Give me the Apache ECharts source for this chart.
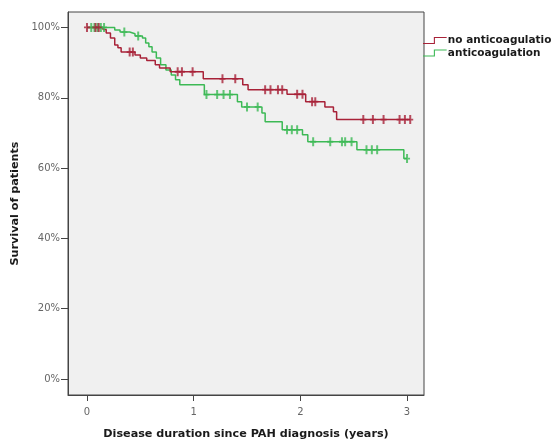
<!DOCTYPE html>
<html>
<head>
<meta charset="utf-8">
<script src="https://cdn.jsdelivr.net/npm/echarts@6/dist/echarts.min.js"></script>
<style>
  html, body { margin: 0; padding: 0; background: #fff; }
  #chart { width: 552px; height: 445px; }
</style>
</head>
<body>
<div id="chart"></div>
<script>
// Kaplan-Meier: survival by anticoagulation status
const seriesNames = ['no anticoagulation', 'anticoagulation']
const xTicks = [0, 1, 2, 3]
const yTicks = [0, 20, 40, 60, 80, 100]

// no anticoagulation: event times (years) and survival (%) after each event
const redEventTimes = [0.15, 0.18, 0.22, 0.26, 0.29, 0.32, 0.45, 0.50, 0.56, 0.64, 0.68, 0.78, 1.09, 1.46, 1.51, 1.875, 2.05, 2.23, 2.31, 2.34]
const redSurvival = [99.4, 98.4, 97.0, 95.0, 94.2, 93.0, 92.2, 91.3, 90.6, 89.4, 88.5, 87.4, 85.4, 83.7, 82.3, 81.0, 78.9, 77.4, 76.0, 73.8]
const redCensored = [0.0, 0.08, 0.11, 0.40, 0.43, 0.85, 0.89, 0.99, 1.27, 1.39, 1.67, 1.72, 1.79, 1.83, 1.97, 2.02, 2.11, 2.14, 2.59, 2.68, 2.78, 2.93, 2.98, 3.03]

// anticoagulation
const greenEventTimes = [0.26, 0.31, 0.40, 0.45, 0.52, 0.55, 0.58, 0.61, 0.65, 0.69, 0.74, 0.79, 0.83, 0.87, 1.10, 1.41, 1.45, 1.64, 1.67, 1.83, 2.02, 2.07, 2.53, 2.97]
const greenSurvival = [99.3, 98.7, 98.2, 97.6, 97.0, 95.6, 94.5, 93.0, 91.3, 89.4, 87.9, 86.5, 85.1, 83.7, 80.9, 78.9, 77.4, 75.7, 73.2, 70.9, 69.5, 67.5, 65.2, 62.7]
const greenCensored = [0.04, 0.07, 0.10, 0.13, 0.16, 0.35, 0.48, 1.12, 1.22, 1.28, 1.34, 1.50, 1.60, 1.875, 1.92, 1.97, 2.12, 2.28, 2.39, 2.42, 2.48, 2.62, 2.67, 2.72, 3.00]

const colors = ['#a82238', '#3cb955']

// step path built from the event arrays
function stepLine(times, surv, censored) {
  const pts = [[0, 100]]
  let prev = 100
  times.forEach((t, i) => {
    pts.push([t, prev])
    pts.push([t, surv[i]])
    prev = surv[i]
  })
  pts.push([Math.max(...censored, times[times.length - 1]), prev])
  return pts
}
function survAt(times, surv, t) {
  let s = 100
  times.forEach((et, i) => { if (et <= t) s = surv[i] })
  return s
}
function censorMarks(times, surv, censored) {
  return censored.map(t => [t, survAt(times, surv, t)])
}

const plusSymbol = 'path://M2,0h2v10h-2zM0,4h6v2h-6z'
// step shaped legend icon (low left half, high right half)
const stepIcon = 'path://M0,6h11v-6h13v1.1h-11.9v6h-12.1z'

const titleFont = { fontFamily: 'DejaVu Sans', fontWeight: 'bold', fontSize: 11.2, color: '#1a1a1a' }

const chart = echarts.init(document.getElementById('chart'))
const option = {
  animation: false,
  backgroundColor: '#fff',
  grid: {
    left: 68,
    top: 12,
    width: 356,
    height: 384,
    show: true,
    backgroundColor: '#f0f0f0',
    borderColor: '#444',
    borderWidth: 1,
  },
  legend: {
    data: seriesNames.map(n => ({ name: n, icon: stepIcon })),
    orient: 'vertical',
    left: 423,
    top: 35,
    padding: 0,
    itemWidth: 24,
    itemHeight: 7,
    itemGap: 1.5,
    selectedMode: false,
    textStyle: {
      fontFamily: 'DejaVu Sans',
      fontWeight: 'bold',
      fontSize: 10.5,
      color: '#1a1a1a',
      padding: [0, 0, 0, -4],
    },
  },
  xAxis: {
    type: 'value',
    min: -0.178,
    max: 3.159,
    name: 'Disease duration since PAH diagnosis (years)',
    nameLocation: 'middle',
    nameGap: 34,
    nameTextStyle: titleFont,
    axisLine: { show: true, onZero: false, lineStyle: { color: '#444' } },
    axisTick: { show: true, customValues: xTicks, length: 6, lineStyle: { color: '#444' } },
    axisLabel: { customValues: xTicks, color: '#666', fontFamily: 'DejaVu Sans', fontSize: 10, margin: 12 },
    splitLine: { show: false },
  },
  yAxis: {
    type: 'value',
    min: -4.54,
    max: 104.4,
    name: 'Survival of patients',
    nameLocation: 'middle',
    nameGap: 44,
    nameTextStyle: titleFont,
    axisLine: { show: true, onZero: false, lineStyle: { color: '#444' } },
    axisTick: { show: true, customValues: yTicks, length: 7, lineStyle: { color: '#444' } },
    axisLabel: {
      customValues: yTicks,
      formatter: v => v + '%',
      color: '#666',
      fontFamily: 'DejaVu Sans',
      fontSize: 10,
      margin: 8,
    },
    splitLine: { show: false },
  },
  series: [
    {
      name: seriesNames[0],
      type: 'line',
      data: stepLine(redEventTimes, redSurvival, redCensored),
      showSymbol: false,
      color: colors[0],
      lineStyle: { width: 1.5 },
      z: 3,
    },
    {
      name: seriesNames[1],
      type: 'line',
      data: stepLine(greenEventTimes, greenSurvival, greenCensored),
      showSymbol: false,
      color: colors[1],
      lineStyle: { width: 1.5 },
      z: 2,
    },
    {
      name: 'censored-no',
      type: 'scatter',
      data: censorMarks(redEventTimes, redSurvival, redCensored),
      symbol: plusSymbol,
      symbolSize: [6, 9],
      itemStyle: { color: colors[0] },
      z: 4,
    },
    {
      name: 'censored-anti',
      type: 'scatter',
      data: censorMarks(greenEventTimes, greenSurvival, greenCensored),
      symbol: plusSymbol,
      symbolSize: [6, 9],
      itemStyle: { color: colors[1] },
      z: 3,
    },
  ],
}
chart.setOption(option)
</script>
</body>
</html>
